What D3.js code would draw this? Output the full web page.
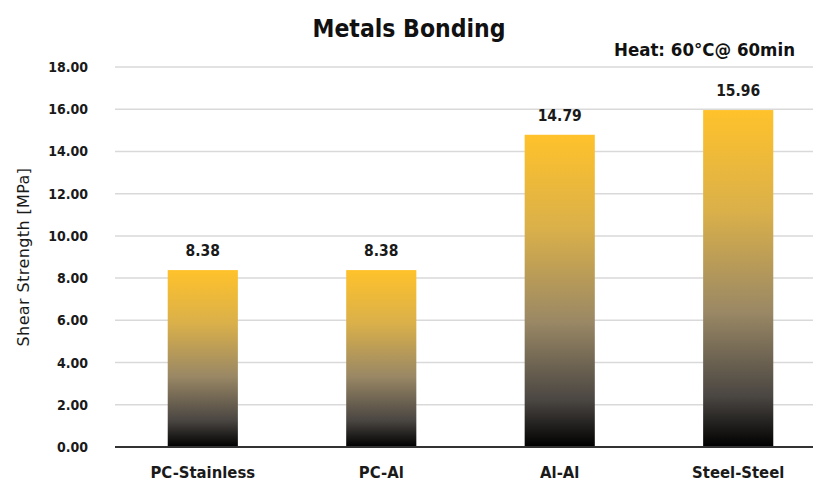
<!DOCTYPE html>
<html>
<head>
<meta charset="utf-8">
<script src="https://cdn.jsdelivr.net/npm/d3@7"></script>
<style>
  html, body { margin: 0; padding: 0; background: #fff; }
  svg text { font-family: "DejaVu Sans Condensed", "Liberation Sans Narrow", "Roboto", sans-serif; }
</style>
</head>
<body>
<svg id="chart" width="813" height="484"></svg>
<script>
// Shear strength of bonded metal pairs
const categories = ["PC-Stainless", "PC-Al", "Al-Al", "Steel-Steel"];
const strength = [8.38, 8.38, 14.79, 15.96];
const yTicks = [0, 2, 4, 6, 8, 10, 12, 14, 16, 18];

const svg = d3.select("#chart");
const W = 813, H = 484;
const plotLeft = 115, plotRight = 813, plotTop = 67, plotBottom = 447;

const x = d3.scaleBand()
  .domain(categories)
  .range([124, 817])
  .paddingInner(0.607)
  .paddingOuter(0.245);

const y = d3.scaleLinear()
  .domain([0, 18])
  .range([plotBottom, plotTop]);

// Per-bar vertical gradient: amber at the top fading through grey to black
const defs = svg.append("defs");
const grad = defs.append("linearGradient")
  .attr("id", "barFill")
  .attr("x1", 0).attr("y1", 0).attr("x2", 0).attr("y2", 1);
[[0, "#FFC22B"], [0.3, "#DAB04A"], [0.6, "#9A8865"], [0.85, "#4A4642"], [1, "#000000"]]
  .forEach(([o, c]) => grad.append("stop").attr("offset", o).attr("stop-color", c));

// Gridlines
svg.append("g")
  .selectAll("line")
  .data(yTicks.filter(d => d > 0))
  .join("line")
  .attr("x1", plotLeft).attr("x2", plotRight)
  .attr("y1", d => y(d)).attr("y2", d => y(d))
  .attr("stroke", "#d9d9d9").attr("stroke-width", 1.5);

// Y axis tick labels
const yAxis = d3.axisLeft(y).tickValues(yTicks).tickFormat(d3.format(".2f")).tickSize(0).tickPadding(27);
svg.append("g")
  .attr("transform", `translate(${plotLeft},0)`)
  .call(yAxis)
  .call(g => g.select(".domain").remove())
  .selectAll("text")
  .attr("font-size", 14).attr("font-weight", "bold").attr("fill", "#1a1a1a");

// Bars
svg.append("g")
  .selectAll("rect")
  .data(strength)
  .join("rect")
  .attr("x", (d, i) => x(categories[i]))
  .attr("width", x.bandwidth())
  .attr("y", d => y(d))
  .attr("height", d => y(0) - y(d))
  .attr("fill", "url(#barFill)");

// Value labels
svg.append("g")
  .selectAll("text")
  .data(strength)
  .join("text")
  .attr("x", (d, i) => x(categories[i]) + x.bandwidth() / 2)
  .attr("y", d => y(d) - 14)
  .attr("text-anchor", "middle")
  .attr("font-size", 15.5).attr("font-weight", "bold").attr("fill", "#1a1a1a")
  .text(d => d.toFixed(2));

// Baseline
svg.append("line")
  .attr("x1", plotLeft).attr("x2", plotRight)
  .attr("y1", y(0)).attr("y2", y(0))
  .attr("stroke", "#333").attr("stroke-width", 2);

// X axis category labels
const xAxis = d3.axisBottom(x).tickSize(0).tickPadding(19);
svg.append("g")
  .attr("transform", `translate(0,${y(0)})`)
  .call(xAxis)
  .call(g => g.select(".domain").remove())
  .selectAll("text")
  .attr("font-size", 16.5).attr("font-weight", "bold").attr("fill", "#1a1a1a");

// Y axis title
svg.append("text")
  .attr("transform", `translate(29,${(y(0) + y(18)) / 2}) rotate(-90)`)
  .attr("text-anchor", "middle")
  .style("font-family", "\"DejaVu Sans\", sans-serif")
  .attr("font-size", 16).attr("letter-spacing", 0.4).attr("fill", "#1a1a1a")
  .text("Shear Strength [MPa]");

// Chart title
svg.append("text")
  .attr("x", 409).attr("y", 37)
  .attr("text-anchor", "middle")
  .attr("font-size", 24.5).attr("font-weight", "bold").attr("fill", "#111")
  .text("Metals Bonding");

// Heat condition note
svg.append("text")
  .attr("x", 795).attr("y", 56)
  .attr("text-anchor", "end")
  .attr("font-size", 18.5).attr("font-weight", "bold").attr("fill", "#111")
  .text("Heat: 60°C@ 60min");
</script>
</body>
</html>
